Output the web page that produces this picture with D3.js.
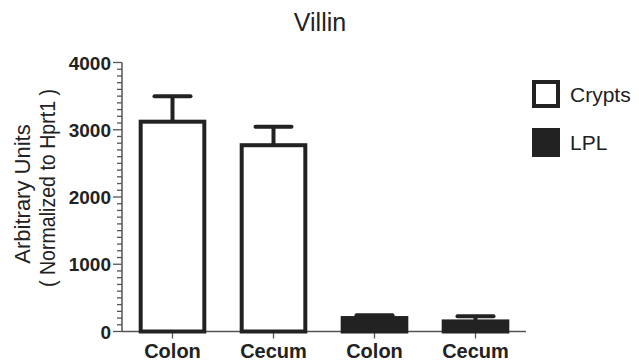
<!doctype html>
<html>
<head>
<meta charset="utf-8">
<title>Villin</title>
<script src="https://cdn.jsdelivr.net/npm/d3@7"></script>
<style>
    body { margin: 0; background: #fff; }
    text { font-family: "Liberation Sans", Arial, sans-serif; fill: #222; }
</style>
</head>
<body>
<div id="chart"></div>
<script>
// values
var categories = ["Colon", "Cecum", "Colon", "Cecum"];
var groups = ["Crypts", "Crypts", "LPL", "LPL"];
var means = [3120, 2770, 200, 150];
var errors = [380, 275, 40, 76];
var yTicks = [0, 1000, 2000, 3000, 4000];
var legendLabels = ["Crypts", "LPL"];

var width = 639, height = 364;
var ink = "#222", axisInk = "#555";

var svg = d3.select("#chart").append("svg")
    .attr("width", width).attr("height", height);

var x = d3.scaleBand()
    .domain(d3.range(categories.length))
    .range([122, 526])
    .paddingInner(0.37)
    .paddingOuter(0.185);

var y = d3.scaleLinear().domain([0, 4000]).range([331.5, 62.5]);

// title
svg.append("text")
    .attr("x", 320).attr("y", 31)
    .attr("text-anchor", "middle")
    .attr("font-size", 25)
    .text("Villin");

// y axis: minor ticks every 100, major every 1000
var yAxisG = svg.append("g").attr("transform", "translate(122,0)");
yAxisG.append("line")
    .attr("y1", y(0)).attr("y2", y(4000))
    .attr("stroke", axisInk).attr("stroke-width", 1.5);
yAxisG.selectAll("line.minor")
    .data(d3.range(0, 4001, 100))
    .enter().append("line")
    .attr("class", "minor")
    .attr("x1", function (d) { return d % 1000 === 0 ? -9 : -5; })
    .attr("x2", 0)
    .attr("y1", function (d) { return y(d); })
    .attr("y2", function (d) { return y(d); })
    .attr("stroke", axisInk).attr("stroke-width", 1.3);
yAxisG.selectAll("text.tick")
    .data(yTicks)
    .enter().append("text")
    .attr("class", "tick")
    .attr("x", -11)
    .attr("y", function (d) { return y(d) + 7; })
    .attr("text-anchor", "end")
    .attr("font-size", 19).attr("font-weight", "bold")
    .text(function (d) { return d; });

// y title, two lines
var yTitle = [
    { t: "Arbitrary Units", base: 29.5, cy: 194 },
    { t: "( Normalized to Hprt1 )", base: 55, cy: 188, len: 198 }
];
svg.selectAll("text.ytitle")
    .data(yTitle)
    .enter().append("text")
    .attr("class", "ytitle")
    .attr("transform", function (d) { return "translate(" + d.base + "," + d.cy + ") rotate(-90)"; })
    .attr("text-anchor", "middle")
    .attr("font-size", 22)
    .attr("textLength", function (d) { return d.len || null; })
    .attr("lengthAdjust", "spacingAndGlyphs")
    .text(function (d) { return d.t; });

// x axis
var xAxisG = svg.append("g");
xAxisG.append("line")
    .attr("x1", 122).attr("x2", 526)
    .attr("y1", y(0)).attr("y2", y(0))
    .attr("stroke", axisInk).attr("stroke-width", 1.5);

// bars
var bars = svg.append("g");
bars.selectAll("rect")
    .data(means)
    .enter().append("rect")
    .attr("x", function (d, i) { return x(i); })
    .attr("width", x.bandwidth())
    .attr("y", function (d) { return y(d); })
    .attr("height", function (d) { return y(0) - y(d); })
    .attr("fill", function (d, i) { return groups[i] === "LPL" ? ink : "#fff"; })
    .attr("stroke", ink).attr("stroke-width", 4);

// error bars (upper only)
var capHalf = 18;
bars.selectAll("line.err")
    .data(means)
    .enter().append("line")
    .attr("class", "err")
    .attr("x1", function (d, i) { return x(i) + x.bandwidth() / 2; })
    .attr("x2", function (d, i) { return x(i) + x.bandwidth() / 2; })
    .attr("y1", function (d) { return y(d); })
    .attr("y2", function (d, i) { return y(d + errors[i]); })
    .attr("stroke", ink).attr("stroke-width", 4);
bars.selectAll("line.cap")
    .data(means)
    .enter().append("line")
    .attr("class", "cap")
    .attr("x1", function (d, i) { return x(i) + x.bandwidth() / 2 - capHalf; })
    .attr("x2", function (d, i) { return x(i) + x.bandwidth() / 2 + capHalf; })
    .attr("y1", function (d, i) { return y(d + errors[i]); })
    .attr("y2", function (d, i) { return y(d + errors[i]); })
    .attr("stroke", ink).attr("stroke-width", 4).attr("stroke-linecap", "round");

// x ticks and labels
xAxisG.selectAll("line.xt")
    .data(categories)
    .enter().append("line")
    .attr("class", "xt")
    .attr("x1", function (d, i) { return x(i) + x.bandwidth() / 2; })
    .attr("x2", function (d, i) { return x(i) + x.bandwidth() / 2; })
    .attr("y1", y(0)).attr("y2", y(0) + 7)
    .attr("stroke", axisInk).attr("stroke-width", 1.3);
xAxisG.selectAll("text.xl")
    .data(categories)
    .enter().append("text")
    .attr("class", "xl")
    .attr("x", function (d, i) { return x(i) + x.bandwidth() / 2; })
    .attr("y", 358)
    .attr("text-anchor", "middle")
    .attr("font-size", 20).attr("font-weight", "bold")
    .text(function (d) { return d; });

// legend
var legend = svg.append("g").selectAll("g")
    .data(legendLabels)
    .enter().append("g")
    .attr("transform", function (d, i) { return "translate(534," + (82 + i * 48) + ")"; });
legend.append("rect")
    .attr("width", 24).attr("height", function (d) { return d === "LPL" ? 25 : 24; })
    .attr("fill", function (d) { return d === "LPL" ? ink : "#fff"; })
    .attr("stroke", ink).attr("stroke-width", 4);
legend.append("text")
    .attr("x", 36).attr("y", 19.5)
    .attr("font-size", 21)
    .text(function (d) { return d; });
</script>
</body>
</html>
